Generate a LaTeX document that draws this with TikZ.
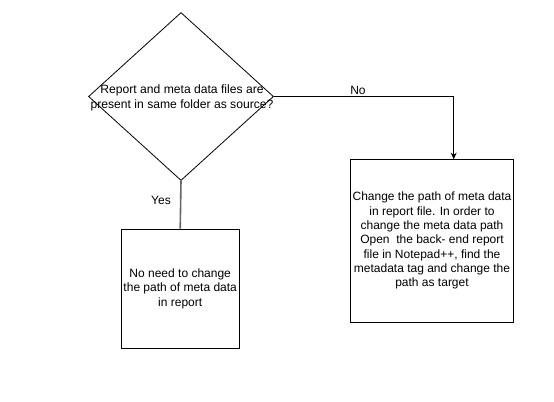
\documentclass[tikz,border=0pt]{standalone}
\usepackage{fontspec}
\setmainfont{Liberation Sans}
\usetikzlibrary{shapes.geometric,arrows.meta}
\begin{document}
\begin{tikzpicture}[x=0.75pt,y=-0.75pt,
  box/.style={draw,line width=0.75pt,inner sep=0pt,align=center,font=\fontsize{9}{10.75}\selectfont},
  txt/.style={inner sep=0pt,align=center,font=\fontsize{9.1}{10.75}\selectfont},
  lab/.style={inner sep=0pt,font=\fontsize{9}{10.75}\selectfont}]
\useasboundingbox[fill=white] (0,0) rectangle (554,401);
\node[draw,diamond,line width=0.6pt,inner sep=0pt,minimum width=185*0.75pt,minimum height=168*0.75pt] (d) at (181,96.5) {};
\node[txt] (dtext) at (182,98) {Report and meta data files are\\present in same folder as source?};
\node[box,minimum width=118*0.75pt,minimum height=119*0.75pt] (l) at (180.2,288.7) {No need to change\\the path of meta data\\in report};
\node[box,minimum width=163*0.75pt,minimum height=163*0.75pt] (r) at (432,240.8) {Change the path of meta data\\in report file. In order to\\change the meta data path\\Open\ \ the back- end report\\file in Notepad++, find the\\metadata tag and change the\\path as target};
\coordinate (rin) at (453.7,159.3);
\draw[line width=0.75pt,-{Stealth[length=5pt,width=4.5pt]}] (d.east) -| (rin);
\draw[gray!80!black,line width=1.2pt] (d.south) -- (l.north);
\node[lab] (no) at (358,90) {No};
\node[lab] (yes) at (161,200) {Yes};
\end{tikzpicture}
\end{document}
